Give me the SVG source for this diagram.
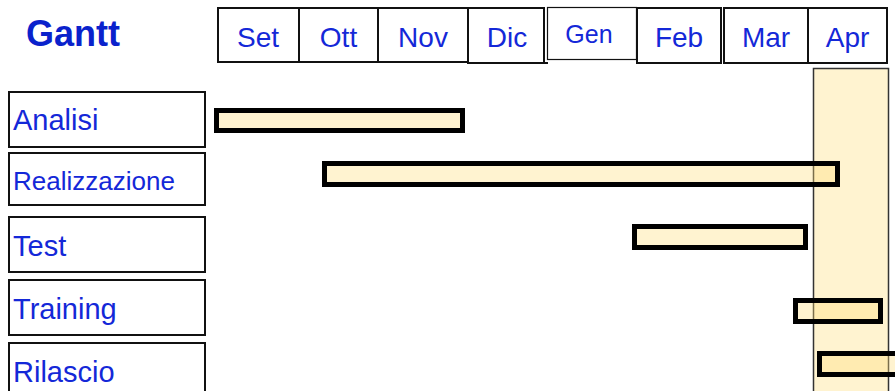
<svg xmlns="http://www.w3.org/2000/svg" width="895" height="391" viewBox="0 0 895 391">
<style>
.t{font-family:"Liberation Sans",Arial,sans-serif;fill:#1428d8}
.m{font-size:28px;text-anchor:middle}
.l{font-size:29px}
.box{fill:#fff;stroke:#111;stroke-width:2}
.bar{fill:#ffdc78;fill-opacity:0.35;stroke:#000;stroke-width:5}
</style>
<rect width="895" height="391" fill="#fff"/>
<text class="t" x="26" y="46" style="font-size:36px;font-weight:bold;fill:#0a22cc">Gantt</text>
<g id="months">
<g id="m-set"><rect class="box" x="218" y="8" width="81" height="54"/><text class="t m" x="258" y="47">Set</text></g>
<g id="m-ott"><rect class="box" x="299" y="8" width="79" height="54"/><text class="t m" x="338.5" y="47">Ott</text></g>
<g id="m-nov"><rect class="box" x="378" y="8" width="90" height="54"/><text class="t m" x="423" y="47">Nov</text></g>
<g id="m-dic"><rect class="box" x="468" y="8" width="76" height="55"/><line x1="544" y1="63" x2="548" y2="63" stroke="#111" stroke-width="2"/><text class="t m" x="507" y="47">Dic</text></g>
<g id="m-gen"><rect class="box" x="547.5" y="7.5" width="89" height="52" style="stroke-width:1.2"/><text class="t" x="589" y="43" style="font-size:25px;text-anchor:middle">Gen</text></g>
<g id="m-feb"><rect class="box" x="637" y="8" width="84" height="55"/><text class="t m" x="679" y="47">Feb</text></g>
<g id="m-mar"><rect class="box" x="724" y="8" width="84" height="55"/><text class="t m" x="766" y="47">Mar</text></g>
<g id="m-apr"><rect class="box" x="808" y="8" width="79" height="55"/><text class="t m" x="847.5" y="47">Apr</text></g>
</g>
<g id="tasks">
<g id="task-analisi"><rect class="box" x="9" y="92" width="196" height="55"/><text class="t l" x="13" y="130">Analisi</text></g>
<g id="task-realizzazione"><rect class="box" x="9" y="153" width="196" height="52"/><text class="t" x="13" y="190" style="font-size:26px">Realizzazione</text></g>
<g id="task-test"><rect class="box" x="9" y="217" width="196" height="55"/><text class="t l" x="13" y="256">Test</text></g>
<g id="task-training"><rect class="box" x="9" y="280" width="196" height="55"/><text class="t l" x="13" y="319">Training</text></g>
<g id="task-rilascio"><rect class="box" x="9" y="343" width="196" height="60"/><text class="t l" x="13" y="382">Rilascio</text></g>
</g>
<g id="highlight">
<rect x="813.5" y="68.5" width="75" height="340" fill="#ffdc78" fill-opacity="0.35" stroke="#333" stroke-width="1.5"/>
</g>
<g id="bars">
<rect class="bar" x="216.5" y="110.5" width="246" height="20"/>
<rect class="bar" x="324.5" y="163.5" width="513" height="21"/>
<rect class="bar" x="634.5" y="226.5" width="171" height="21"/>
<rect class="bar" x="795.5" y="300.5" width="85" height="21"/>
<rect class="bar" x="819.5" y="353.5" width="100" height="21"/>
</g>
</svg>
